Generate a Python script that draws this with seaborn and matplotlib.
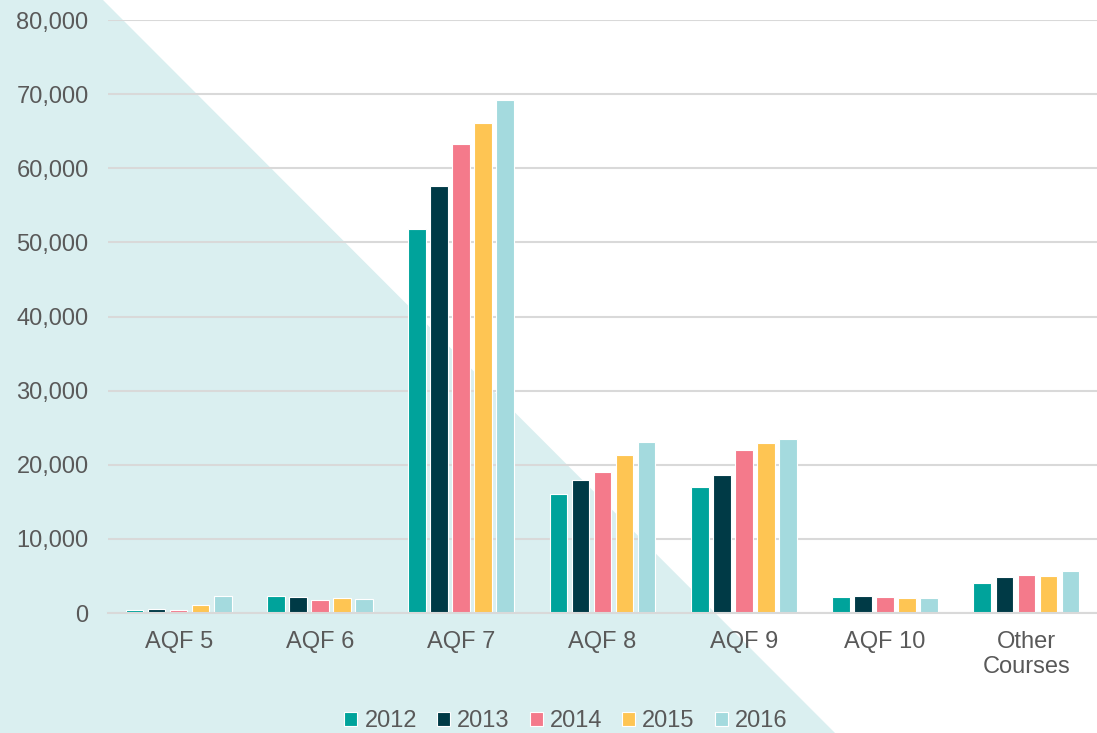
import matplotlib
matplotlib.use("Agg")
import matplotlib.pyplot as plt
from matplotlib.patches import Polygon
from matplotlib.ticker import FuncFormatter
import seaborn as sns
import pandas as pd

categories = ["AQF 5", "AQF 6", "AQF 7", "AQF 8", "AQF 9", "AQF 10", "Other\nCourses"]
years = ["2012", "2013", "2014", "2015", "2016"]
v2012 = [400, 2300, 51800, 16100, 17000, 2200, 4100]
v2013 = [500, 2200, 57600, 18000, 18600, 2300, 4900]
v2014 = [400, 1800, 63300, 19000, 22000, 2100, 5100]
v2015 = [1100, 2000, 66100, 21300, 22900, 2000, 5000]
v2016 = [2300, 1950, 69200, 23100, 23500, 2000, 5700]
colors = ["#00A39B", "#003A46", "#F47A8B", "#FEC553", "#A4DADE"]

series = [v2012, v2013, v2014, v2015, v2016]
rows = []
for y, vals in zip(years, series):
    for c, v in zip(categories, vals):
        rows.append({"cat": c, "year": y, "value": v})
df = pd.DataFrame(rows)

sns.set_theme(style="white")
plt.rcParams['font.family'] = ['Liberation Sans', 'DejaVu Sans']

fig = plt.figure(figsize=(10.97, 7.33), dpi=100)
fig.patch.set_facecolor("white")

bg = fig.add_axes([0, 0, 1, 1], zorder=-1)
bg.set_xlim(0, 1)
bg.set_ylim(0, 1)
bg.axis("off")
bg.add_patch(Polygon([(0, 1), (103 / 1097, 1), (835 / 1097, 0), (0, 0)], closed=True,
                     facecolor="#DAEFF0", edgecolor="none"))

ax = fig.add_axes([108 / 1097, 1 - 613 / 733, (1097 - 108) / 1097, (613 - 20) / 733], zorder=1)
ax.set_facecolor("none")
sns.barplot(data=df, x="cat", y="value", hue="year", palette=colors, ax=ax,
            width=0.78, gap=0.2, edgecolor="white", linewidth=0.8, errorbar=None,
            saturation=1, order=categories, hue_order=years)

ax.set_ylim(0, 80000)
ax.set_xlim(-0.5, 6.5)
ax.set_yticks(range(0, 80001, 10000))
ax.yaxis.set_major_formatter(FuncFormatter(lambda v, p: f"{int(v):,}"))
ax.grid(axis="y", color="#D9D9D9", linewidth=1.5)
ax.set_axisbelow(True)
for s in ["top", "right", "left"]:
    ax.spines[s].set_visible(False)
ax.spines["bottom"].set_color("#D9D9D9")
ax.spines["bottom"].set_linewidth(1.5)
ax.tick_params(axis="both", length=0, labelsize=17, colors="#595959")
ax.tick_params(axis="y", pad=14)
ax.tick_params(axis="x", pad=13)
ax.set_xlabel("")
ax.set_ylabel("")

leg = ax.legend(loc="lower center", bbox_to_anchor=(566 / 1097, -0.012), bbox_transform=fig.transFigure,
                ncol=5, frameon=False, fontsize=17, handlelength=0.55, handleheight=0.55,
                handletextpad=0.3, columnspacing=0.85, borderaxespad=0.0)
for t in leg.get_texts():
    t.set_color("#595959")

fig.savefig("out.png", dpi=100, facecolor="white")
